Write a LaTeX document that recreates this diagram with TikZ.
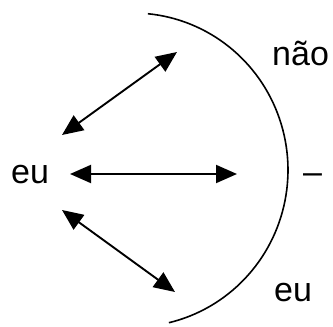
\documentclass[tikz,border=0pt]{standalone}
\usepackage{fontspec}
\setmainfont{Liberation Sans}
\usetikzlibrary{arrows.meta}

\tikzset{
  word/.style={anchor=base west, inner sep=0pt, font=\fontsize{34}{40}\selectfont},
  link/.style={line width=1.9pt, {Triangle[length=21pt,width=18pt]}-{Triangle[length=21pt,width=18pt]}}
}

\begin{document}
\begin{tikzpicture}[x=1pt, y=-1pt]
  \useasboundingbox (0,0) rectangle (333,327);
  % boundary arc (pixel coords, y down)
  \draw[line width=1.6pt] plot[domain=-84.5:76.6, samples=80]
    ({133+155*cos(\x)},{170+157*sin(\x)});
  % words
  \node[word] (self)  at (11,183)  {eu};
  \node[word] (nao)   at (272,65)  {não};
  \node[word] (dash)  at (303,183) {–};
  \node[word] (other) at (274,301) {eu};
  % arrow ends
  \coordinate (up0) at (62,135);
  \coordinate (up1) at (177,52);
  \coordinate (mid0) at (70,174);
  \coordinate (mid1) at (237,174);
  \coordinate (lo0) at (62,210);
  \coordinate (lo1) at (175,292);
  \draw[link] (up0) -- (up1);
  \draw[link] (mid0) -- (mid1);
  \draw[link] (lo0) -- (lo1);
\end{tikzpicture}
\end{document}
